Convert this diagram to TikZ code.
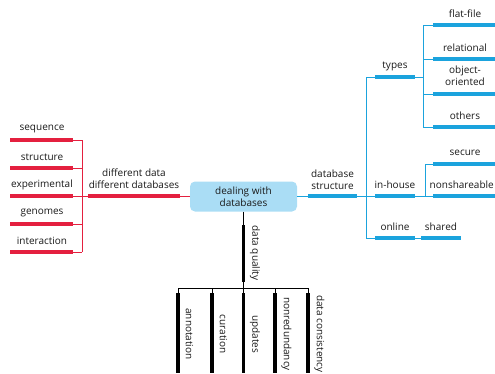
\documentclass[tikz,border=0pt]{standalone}
\usepackage{fontspec}
\setmainfont{Open Sans}
\definecolor{cred}{HTML}{E4203F}
\definecolor{cblue}{HTML}{1BA3DD}
\definecolor{cbox}{HTML}{AADDF5}
\begin{document}
\begin{tikzpicture}[x=1pt,y=-1pt,
  lbl/.style={font=\fontsize{10}{12}\selectfont, align=center, inner sep=0pt, text=black!90},
  vlbl/.style={lbl, rotate=-90},
  rbar/.style={draw=cred,line width=4pt},
  rthin/.style={draw=cred,line width=1pt},
  bbar/.style={draw=cblue,line width=4pt},
  bthin/.style={draw=cblue,line width=1pt},
  kbar/.style={draw=black,line width=3.5pt},
  kthin/.style={draw=black,line width=1pt},
  box/.style={fill=cbox, rounded corners=5pt, minimum width=107pt, minimum height=30pt, inner sep=0pt, align=center, font=\fontsize{10}{12}\selectfont, text=black!90}]
\useasboundingbox (0,0) rectangle (495,373);

% central box
\node[box] (main) at (243.5,196.5) {dealing with\\databases};

% ---------- red (left) ----------
\coordinate (rl) at (88,196);
\coordinate (rr) at (180,196);
\coordinate (rj) at (82,196);
\draw[rbar] (rl) -- (rr);
\draw[rthin] (rr) -- (main.west |- rr);
\draw[rthin] (rj) -- (rl);
\node[lbl] (ldiff) at (134,179) {different data\\different databases};
\coordinate (rtop) at (82,140);
\coordinate (rbot) at (82,252);
\draw[rthin] (rtop) -- (rbot);
\foreach \y/\t/\n in {140/sequence/a,168/structure/b,196/experimental/c,224/genomes/d,252/interaction/e}{
  \coordinate (rls\n) at (10,\y);
  \coordinate (rle\n) at (73,\y);
  \coordinate (rlj\n) at (82,\y);
  \draw[rbar] (rls\n) -- (rle\n);
  \draw[rthin] (rle\n) -- (rlj\n);
  \node[lbl] (rlt\n) at (42,\y-11) {\t};
}

% ---------- blue (right) ----------
\coordinate (bl) at (308,196);
\coordinate (br) at (357,196);
\coordinate (bj) at (366,196);
\draw[bthin] (main.east |- bl) -- (bl);
\draw[bbar] (bl) -- (br);
\draw[bthin] (br) -- (bj);
\node[lbl] (ldbs) at (332.5,179.5) {database\\structure};
\coordinate (btop) at (366,77);
\coordinate (bbot) at (366,238);
\draw[bthin] (btop) -- (bbot);
% second level
\foreach \y/\t/\n in {77/types/a,196/in-house/b,238/online/c}{
  \coordinate (bs\n) at (375,\y);
  \coordinate (be\n) at (415,\y);
  \coordinate (bj\n) at (366,\y);
  \draw[bthin] (bj\n) -- (bs\n);
  \draw[bbar] (bs\n) -- (be\n);
  \node[lbl] (bt\n) at (395,\y-11) {\t};
}
% types children
\coordinate (tj1) at (423,25);
\coordinate (tj2) at (423,127);
\draw[bthin] (tj1) -- (tj2);
\coordinate (tja) at (423,77);
\draw[bthin] (bea) -- (tja);
\foreach \y/\t/\n in {25/flat-file/a,59/relational/b,127/others/d}{
  \coordinate (ts\n) at (433,\y);
  \coordinate (te\n) at (495,\y);
  \coordinate (tjj\n) at (423,\y);
  \draw[bthin] (tjj\n) -- (ts\n);
  \draw[bbar] (ts\n) -- (te\n);
  \node[lbl] (tt\n) at (465,\y-11) {\t};
}
\coordinate (tsc) at (433,94);
\coordinate (tec) at (495,94);
\coordinate (tjjc) at (423,94);
\draw[bthin] (tjjc) -- (tsc);
\draw[bbar] (tsc) -- (tec);
\node[lbl] (ttc) at (465,76) {object-\\oriented};
% in-house children
\coordinate (hj1) at (425,164);
\coordinate (hj2) at (425,196);
\draw[bthin] (beb) -- (hj2);
\draw[bthin] (hj1) -- (hj2);
\coordinate (hsa) at (433,164);
\coordinate (hea) at (495,164);
\draw[bthin] (hj1) -- (hsa);
\draw[bbar] (hsa) -- (hea);
\node[lbl] (hta) at (465,153) {secure};
\coordinate (hsb) at (433,196);
\coordinate (heb) at (495,196);
\draw[bthin] (hj2) -- (hsb);
\draw[bbar] (hsb) -- (heb);
\node[lbl,anchor=east] (htb) at (494,185) {nonshareable};
% online child
\coordinate (os) at (421,238);
\coordinate (oe) at (461,238);
\draw[bthin] (bec) -- (os);
\draw[bbar] (os) -- (oe);
\node[lbl] (ot) at (441,227) {shared};

% ---------- black (down) ----------
\coordinate (kt) at (243.5,225);
\coordinate (kb) at (243.5,282);
\coordinate (kj) at (243.5,288);
\draw[kthin] (main.south) -- (kt);
\draw[kbar] (kt) -- (kb);
\draw[kthin] (kb) -- (kj);
\node[vlbl] (lqual) at (255,253) {data quality};
\coordinate (kh1) at (178,288);
\coordinate (kh2) at (308,288);
\draw[kthin] (kh1) -- (kh2);
\foreach \x/\t/\n in {178/annotation/a,212/curation/b,243.5/updates/c,275/nonredundancy/d,308/data consistency/e}{
  \coordinate (kj\n) at (\x,288);
  \coordinate (ks\n) at (\x,293);
  \coordinate (ke\n) at (\x,373);
  \draw[kthin] (kj\n) -- (ks\n);
  \draw[kbar] (ks\n) -- (ke\n);
  \node[vlbl] (kl\n) at (\x+11.5,334) {\t};
}
\end{tikzpicture}
\end{document}
